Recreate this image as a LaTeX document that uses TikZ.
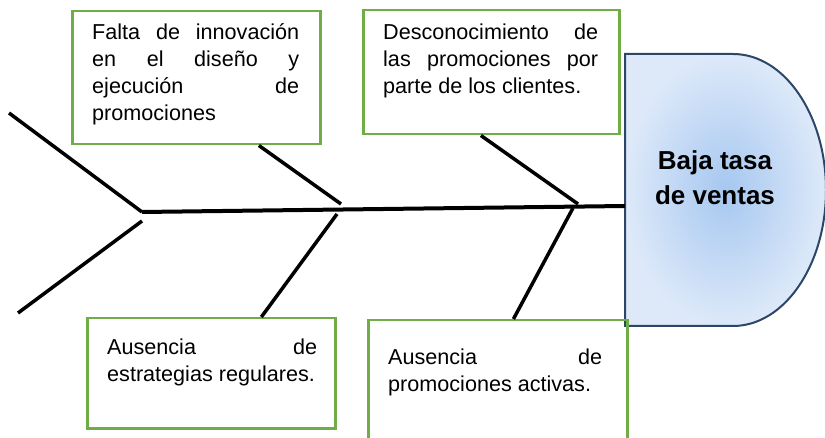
\documentclass[tikz,border=0pt]{standalone}
\usepackage{fontspec}
\setmainfont{Liberation Sans}
\usetikzlibrary{calc}
\definecolor{causegreen}{RGB}{112,173,71}
\definecolor{headblue}{RGB}{44,70,104}
\definecolor{headlight}{RGB}{221,233,249}
\definecolor{headdeep}{RGB}{166,199,240}

\begin{document}
\begin{tikzpicture}[x=1pt, y=-1pt,
    cause/.style={draw=causegreen, line width=2.5pt, anchor=north west, inner sep=0pt},
    causetext/.style={anchor=base west, inner sep=0pt, align=justify, font=\fontsize{21.6}{27}\selectfont},
    bone/.style={line width=3.5pt}]
    \useasboundingbox (0,0) rectangle (825,438);

    \shadedraw[draw=headblue, line width=2pt, inner color=headdeep, outer color=headlight]
        (625,54) -- (733,54) arc[start angle=-90, end angle=90, x radius=93, y radius=136] -- (625,326) -- cycle;
    \node[font=\bfseries\fontsize{26}{35}\selectfont, align=center] (head) at (715,178) {Baja tasa\\de ventas};

    \node[cause, minimum width=248, minimum height=133] (b1) at (71,10) {};
    \node[cause, minimum width=256, minimum height=124] (b2) at (362,9) {};
    \node[cause, minimum width=248, minimum height=110] (b3) at (86,317) {};
    \node[cause, minimum width=259, minimum height=126] (b4) at (367,319) {};

    \node[causetext, text width=207] (t1) at (92,40) {Falta\hfill de\hfill innovación\\ en\hfill el\hfill diseño\hfill y\\ ejecución\hfill de\\ promociones};
    \node[causetext, text width=215] (t2) at (383,40) {Desconocimiento\hfill de\\ las\hfill promociones\hfill por\\ parte de los clientes.};
    \node[causetext, text width=210] (t3) at (107,355) {Ausencia\hfill de\\ estrategias regulares.};
    \node[causetext, text width=214] (t4) at (388,365) {Ausencia\hfill de\\ promociones activas.};

    \coordinate (tail) at (142,212);
    \coordinate (neck) at (625,206);
    \coordinate (fin1) at (9,113);
    \coordinate (fin2) at (18,313);
    \coordinate (fin2end) at (142,221);
    \coordinate (j1up) at (341,204);
    \coordinate (j1lo) at (337,214);
    \coordinate (j2up) at (578,204);
    \coordinate (j2lo) at (573,208);

    \draw[line width=4pt] (tail) -- (neck);
    \draw[bone] (fin1) -- (tail);
    \draw[bone] (fin2) -- (fin2end);
    \draw[bone] ($(b1.south west)!0.75!(b1.south east)$) -- (j1up);
    \draw[bone] ($(b3.north west)!0.70!(b3.north east)$) -- (j1lo);
    \draw[bone] ($(b2.south west)!0.46!(b2.south east)$) -- (j2up);
    \draw[bone] ($(b4.north west)!0.56!(b4.north east)$) -- (j2lo);
\end{tikzpicture}
\end{document}
